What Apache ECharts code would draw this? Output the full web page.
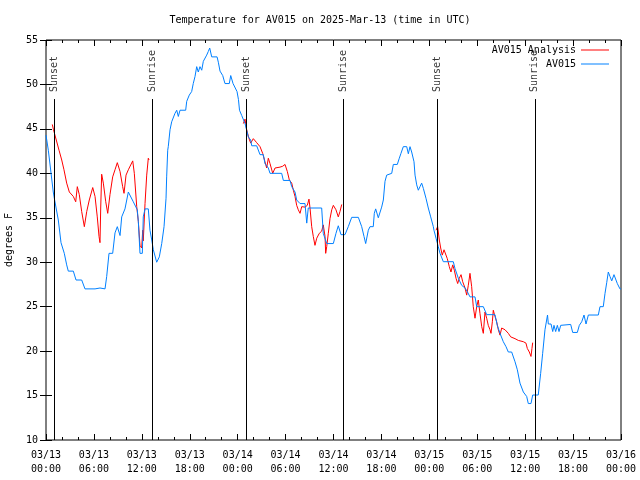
<!DOCTYPE html>
<html>
<head>
<meta charset="utf-8">
<script src="https://cdn.jsdelivr.net/npm/echarts@6/dist/echarts.min.js"></script>
<style>html,body{margin:0;padding:0;background:#fff}#c{width:640px;height:480px}</style>
</head>
<body>
<div id="c"></div>
<script>
// hours since 2025-03-13 00:00 UTC, temperature (F)
const av015 = [
[0,44.3],[0.29,42.6],[0.91,37.9],[1.04,37.2],[1.54,34.75],[1.88,32.2],[2.29,31],[2.59,29.7],[2.79,29],[3.42,29],[3.76,28],[4.47,28],[4.88,27],[6.14,27],[6.76,27.1],[7.39,27],[7.6,28.4],[7.89,31],[8.35,31],[8.64,33.3],[8.93,34],[9.27,33],[9.48,35.1],[9.89,36],[10.31,37.9],[10.43,38.1],[10.93,36.8],[11.43,35.9],[11.56,34.6],[11.77,31],[12.06,31],[12.18,35.1],[12.4,36],[12.81,36],[13.02,33.6],[13.24,32.5],[13.44,31.4],[13.86,30],[14.19,30.6],[14.49,32.1],[14.78,34],[15.03,37.2],[15.11,39.6],[15.24,42.6],[15.31,43],[15.53,44.9],[15.74,45.8],[16.15,46.75],[16.37,47.1],[16.57,46.4],[16.78,47.1],[17.49,47.1],[17.62,48.1],[17.94,48.8],[18.24,49.2],[18.44,50.1],[18.66,50.9],[18.87,52],[19.07,51.4],[19.28,52],[19.5,51.6],[19.7,52.6],[20.12,53.3],[20.32,53.7],[20.5,54.1],[20.75,53.1],[21.42,53.1],[21.58,52.5],[21.79,51.5],[22.13,51],[22.41,50.1],[22.95,50.1],[23.13,51],[23.42,50.1],[23.67,50.1],[23.92,49.2],[24.1,48.3],[24.23,47.1],[24.51,46.5],[24.92,45.6],[25.33,44.1],[25.63,43.75],[25.76,43.1],[26.38,43.1],[26.8,42.1],[27.21,42.1],[27.42,41.1],[27.84,40.6],[28.05,40],[29.51,40],[29.72,39.2],[30.55,39.2],[30.77,38.5],[31.18,37.9],[31.39,37],[31.81,36.6],[32.43,36.6],[32.65,34.4],[32.84,36.1],[34.52,36.1],[34.72,33.25],[35.15,32.1],[35.98,32.1],[36.31,33.25],[36.6,34.1],[36.94,33.1],[37.44,33.1],[37.85,34],[38.28,35.05],[39.11,35.05],[39.53,34],[39.82,32.9],[40.03,32.1],[40.36,33.6],[40.57,34],[40.98,34],[41.11,35.5],[41.28,36],[41.61,35],[41.82,35.2],[42.03,36.2],[42.24,37],[42.45,39.1],[42.66,39.8],[42.86,40],[43.29,40],[43.49,41],[43.99,41],[44.24,41.7],[44.45,42.25],[44.74,43],[45.17,43],[45.37,42.2],[45.58,43],[45.79,42.4],[46.08,41.3],[46.21,39.8],[46.42,38.7],[46.62,38.1],[46.83,38.5],[47.04,38.9],[47.25,38.3],[47.58,37.2],[47.87,36.1],[48.17,35.1],[48.5,34],[48.58,33.6],[48.84,32.7],[49.12,31.75],[49.34,31],[49.75,30.06],[51,30.06],[51.21,29.3],[51.63,28.2],[52.05,27.4],[52.47,27.1],[52.75,26.7],[53.09,26.1],[53.72,26.1],[53.93,25],[54.76,25],[55.18,24.1],[56.22,24.1],[56.51,22.9],[56.85,22],[57.26,21.06],[57.6,20.5],[57.89,19.9],[58.31,19.9],[58.73,18.8],[59.02,17.9],[59.35,16.4],[59.77,15.4],[60.19,14.9],[60.39,14.1],[60.73,14.1],[60.94,15.06],[61.64,15.06],[61.94,17.5],[62.19,19.75],[62.48,22.4],[62.8,24.06],[62.9,23.05],[63.24,23.05],[63.45,22.2],[63.61,22.9],[63.82,22.2],[64.03,22.9],[64.24,22.2],[64.45,22.9],[64.7,23],[65.7,23],[65.95,22.1],[66.53,22.1],[66.78,22.9],[67.08,23.3],[67.37,24.06],[67.62,23.05],[67.91,24.06],[69.16,24.06],[69.37,25],[69.78,25],[70,26.5],[70.21,27.7],[70.41,28.9],[70.62,28.4],[70.84,27.9],[71.12,28.6],[71.29,28.8],[71.54,27.6],[71.87,27],[72,27]
];
const analysis1 = [
[0.79,45.5],[0.94,44.9],[1.63,42.6],[1.97,41.5],[2.25,40.4],[2.59,38.9],[2.92,37.9],[3.42,37.4],[3.72,36.8],[3.92,38.5],[4.17,37.6],[4.47,35.7],[4.8,34],[5.1,35.7],[5.42,37],[5.85,38.4],[6.14,37.4],[6.42,35.1],[6.64,32.9],[6.76,32.2],[6.85,36.1],[6.97,39.9],[7.18,38.9],[7.48,36.8],[7.73,35.5],[8.01,37.6],[8.35,39.6],[8.64,40.4],[8.93,41.2],[9.27,40.2],[9.6,38.5],[9.77,37.75],[10.02,39.8],[10.31,40.4],[10.86,41.4],[11.06,40],[11.36,36.25],[11.56,34.6],[11.77,31.9],[11.98,31.6],[12.11,33.6],[12.18,32.4],[12.4,36.6],[12.61,39.8],[12.81,41.7],[12.9,41.5]
];
const analysis2 = [
[24.71,45.6],[24.92,46.1],[25.13,44.9],[25.42,43.9],[25.63,43.4],[25.96,43.9],[26.38,43.45],[26.8,43],[27.13,42.25],[27.42,41.3],[27.63,40.6],[27.84,41.7],[28.05,41.1],[28.39,40],[28.68,40.6],[28.89,40.8],[29.3,40.7],[29.64,40.8],[29.93,41],[30.22,40.2],[30.47,39.25],[30.77,38.9],[30.97,38.1],[31.18,37.4],[31.39,36.4],[31.59,35.9],[31.81,35.5],[32.02,36.25],[32.43,36.2],[32.72,36.4],[32.93,37.1],[33.06,36.1],[33.27,34],[33.47,32.9],[33.68,31.9],[33.9,32.7],[34.22,33.25],[34.52,33.5],[34.72,34.2],[34.94,32.9],[35.02,31],[35.15,31.75],[35.35,33.25],[35.56,34.9],[35.78,35.9],[35.98,36.4],[36.31,35.9],[36.6,35.1],[36.81,35.7],[37.03,36.5]
];
const analysis3 = [
[48.84,33.6],[49.04,34],[49.25,32.5],[49.42,31.6],[49.62,30.8],[49.84,31.4],[50.05,31.6],[50.25,30.4],[50.5,29.5],[50.71,28.9],[50.93,29.7],[51.13,29.1],[51.34,28.2],[51.55,27.6],[51.75,28.2],[51.97,28.6],[52.18,27.8],[52.47,27.1],[52.68,26.3],[52.88,27.4],[53.09,28.75],[53.3,27.25],[53.5,25],[53.72,23.7],[53.93,25],[54.13,25.75],[54.34,24.25],[54.56,22.75],[54.76,22],[54.97,24.4],[55.18,23.7],[55.38,22.9],[55.6,22.4],[55.72,22],[55.89,23.3],[56.01,24.6],[56.22,23.9],[56.43,23.3],[56.64,22.4],[56.85,21.8],[57.06,22.6],[57.48,22.4],[57.89,22],[58.19,21.6],[58.73,21.4],[59.15,21.2],[59.77,21.06],[60.1,20.9],[60.27,20.3],[60.52,19.9],[60.73,19.4],[60.85,20.3],[60.94,20.95]
];
const sunHours = [1.0, 13.27, 25.04, 37.2, 48.96, 61.2];
const sunNames = ['Sunset', 'Sunrise', 'Sunset', 'Sunrise', 'Sunset', 'Sunrise'];
const dayLabels = ['03/13','03/13','03/13','03/13','03/14','03/14','03/14','03/14','03/15','03/15','03/15','03/15','03/16'];
const timeLabels = ['00:00','06:00','12:00','18:00'];

const FONT = 'DejaVu Sans Mono';
const sunTop = 48.36;
const analysis = analysis1.concat([[null, null]], analysis2, [[null, null]], analysis3);

function xLabel(v) {
  const i = Math.round(v / 6);
  return dayLabels[i] + '\n' + timeLabels[i % 4];
}

const tickCommon = {
  type: 'value', min: 0, max: 72, interval: 6,
  axisLine: { show: false },
  splitLine: { show: false },
  axisTick: { show: true, inside: true, length: 6, lineStyle: { color: '#000', width: 1 } },
  minorTick: { show: true, splitNumber: 3, length: 3, lineStyle: { color: '#000', width: 1 } }
};

const chart = echarts.init(document.getElementById('c'), null, { renderer: 'canvas' });
chart.setOption({
  animation: false,
  backgroundColor: '#fff',
  textStyle: { fontFamily: FONT, fontSize: 10, color: '#000' },
  title: {
    text: 'Temperature for AV015 on 2025-Mar-13 (time in UTC)',
    left: 'center', top: 10,
    textStyle: { fontFamily: FONT, fontSize: 10, fontWeight: 'normal', color: '#000' }
  },
  grid: { left: 46, right: 19, top: 40, bottom: 40, outerBoundsMode: 'none', containLabel: false, show: true, borderColor: '#000', borderWidth: 1, backgroundColor: 'transparent' },
  legend: {
    orient: 'vertical', right: 31, top: 45, align: 'right', padding: 0,
    itemWidth: 28, itemHeight: 1, itemGap: 4, icon: 'rect',
    textStyle: { fontFamily: FONT, fontSize: 10, color: '#000' },
    data: ['AV015 Analysis', 'AV015']
  },
  xAxis: [
    Object.assign({}, tickCommon, {
      position: 'bottom',
      axisLabel: { show: true, formatter: xLabel, fontFamily: FONT, fontSize: 10, color: '#000', lineHeight: 14, margin: 8 }
    }),
    Object.assign({}, tickCommon, { position: 'top', axisLabel: { show: false } })
  ],
  yAxis: [
    {
      type: 'value', min: 10, max: 55, interval: 5, position: 'left',
      name: 'degrees F', nameLocation: 'middle', nameGap: 32, nameRotate: 90,
      nameTextStyle: { fontFamily: FONT, fontSize: 10, color: '#000' },
      axisLine: { show: false }, splitLine: { show: false },
      axisTick: { show: true, inside: true, length: 6, lineStyle: { color: '#000' } },
      axisLabel: { fontFamily: FONT, fontSize: 10, color: '#000', margin: 8 }
    },
    {
      type: 'value', min: 10, max: 55, interval: 5, position: 'right',
      axisLine: { show: false }, splitLine: { show: false },
      axisTick: { show: true, inside: true, length: 6, lineStyle: { color: '#000' } },
      axisLabel: { show: false }
    }
  ],
  series: [
    {
      name: 'AV015 Analysis', type: 'line', data: analysis, symbol: 'none', connectNulls: false,
      lineStyle: { color: '#ff0000', width: 1 }, itemStyle: { color: '#ff0000' }
    },
    {
      name: 'AV015', type: 'line', data: av015, symbol: 'none',
      lineStyle: { color: '#0080ff', width: 1 }, itemStyle: { color: '#0080ff' }
    },
    {
      name: 'sun', type: 'line', data: [], symbol: 'none',
      markLine: {
        silent: true, symbol: ['none', 'none'], animation: false,
        lineStyle: { color: '#000', width: 1, type: 'solid' },
        label: { show: false },
        data: sunHours.map(h => [{ coord: [h, 10] }, { coord: [h, sunTop] }])
      }
    },
    {
      name: 'sunLabels', type: 'scatter', symbolSize: 0, silent: true,
      data: sunHours.map((h, i) => [h, sunTop, sunNames[i]]),
      label: {
        show: true, position: 'top', distance: 7, rotate: 90, align: 'left', verticalAlign: 'middle',
        formatter: p => p.value[2], fontFamily: FONT, fontSize: 10, color: '#000'
      }
    }
  ]
});
</script>
</body>
</html>
